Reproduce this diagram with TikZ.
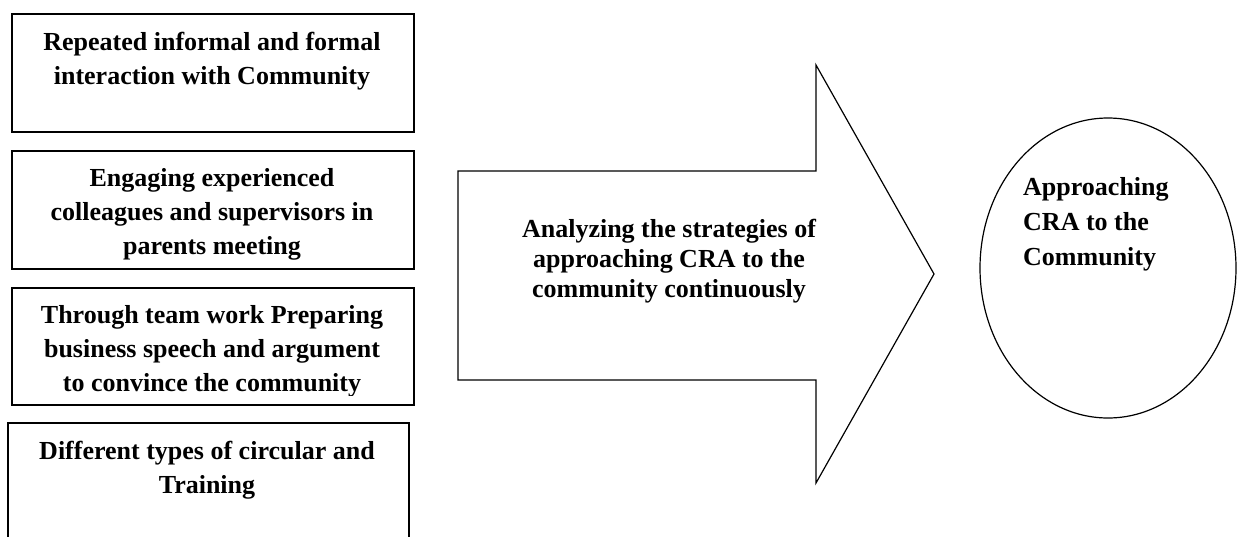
\documentclass[tikz,border=0pt]{standalone}
\usepackage{fontspec}
\setmainfont{Liberation Serif}
\usetikzlibrary{shapes.geometric}
\begin{document}
\begin{tikzpicture}[x=1pt,y=-1pt,
  box/.style={draw, line width=1.6pt, inner sep=0pt, anchor=north west},
  lbl/.style={font=\bfseries\fontsize{26}{34}\selectfont, align=center, inner sep=0pt, anchor=base},
  albl/.style={font=\bfseries\fontsize{26}{30}\selectfont, align=center, inner sep=0pt, anchor=base},
  clbl/.style={font=\bfseries\fontsize{26}{35}\selectfont, align=left, inner sep=0pt, anchor=base west},
  shp/.style={draw, line width=1.2pt}]
\useasboundingbox (0,0) rectangle (1239,536);
% left boxes
\node[box, minimum width=402pt, minimum height=118pt] (b1) at (11,13) {};
\node[box, minimum width=402pt, minimum height=118pt] (b2) at (11,150) {};
\node[box, minimum width=402pt, minimum height=117pt] (b3) at (11,287) {};
\node[box, minimum width=401pt, minimum height=118pt] (b4) at (7,422) {};
% (base anchor = baseline of the last line)
\node[lbl] (t1) at (212,84) {Repeated informal and formal\\interaction with Community};
\begin{scope}
\clip (11,150) rectangle (413,259);
\node[lbl] (t2) at (212,254) {Engaging experienced\\colleagues and supervisors in\\parents meeting};
\end{scope}
\begin{scope}
\clip (11,287) rectangle (413,395);
\node[lbl] (t3) at (212,391) {Through team work Preparing\\business speech and argument\\to convince the community};
\end{scope}
\node[lbl] (t4) at (207,493) {Different types of circular and\\Training};
% big arrow
\draw[shp, line join=miter] (458,171) -- (816,171) -- (816,65) -- (934,274) -- (816,483) -- (816,380) -- (458,380) -- cycle;
\node[albl] (ta) at (669,297) {Analyzing the strategies of\\approaching CRA to the\\community continuously};
% goal ellipse
\node[shp, ellipse, minimum width=256pt, minimum height=300pt, inner sep=0pt] (goal) at (1108,268) {};
\node[clbl] (tg) at (1023,265) {Approaching\\CRA to the\\Community};
\end{tikzpicture}
\end{document}
